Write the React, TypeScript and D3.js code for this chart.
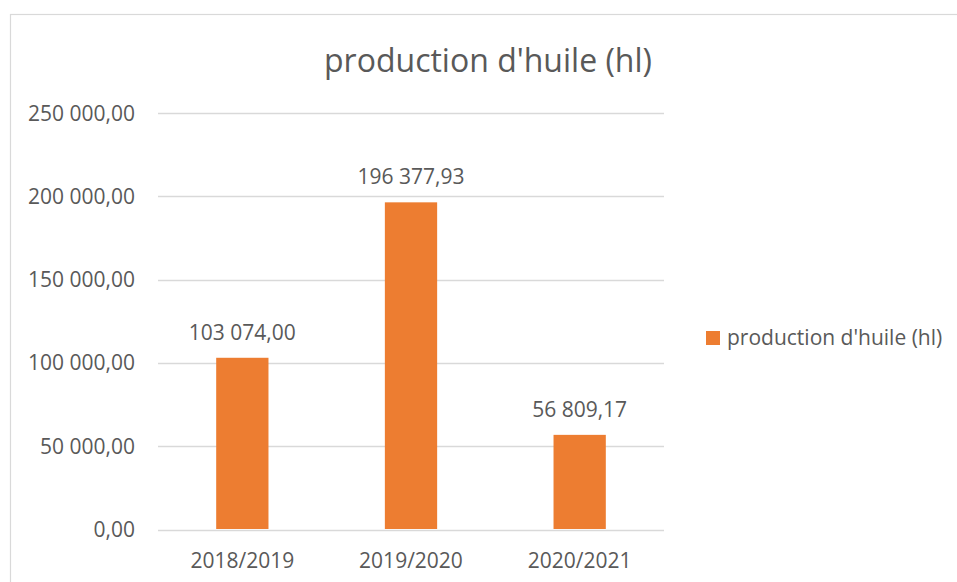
import React from "react";
import * as d3 from "d3";

const categories = ["2018/2019", "2019/2020", "2020/2021"];
const values = [103074.0, 196377.93, 56809.17];
const yTicks = [0, 50000, 100000, 150000, 200000, 250000];
const seriesName = "production d'huile (hl)";
const title = "production d'huile (hl)";

const W = 957;
const H = 582;
const FONT = "'Open Sans', sans-serif";
const TEXT = "#595959";
const GRID = "#d9d9d9";
const BAR = "#ed7d31";

function fmt(v: number): string {
  const s = v.toFixed(2);
  const [intPart, dec] = s.split(".");
  const withSpaces = intPart.replace(/\B(?=(\d{3})+(?!\d))/g, " ");
  return `${withSpaces},${dec}`;
}

export default function App() {
  const plotLeft = 158;
  const plotRight = 664;
  const plotTop = 113;
  const plotBottom = 529.5;

  const x = d3.scaleBand<string>().domain(categories).range([plotLeft, plotRight]).paddingInner(0.69).paddingOuter(0.345);
  const y = d3.scaleLinear().domain([0, 250000]).range([plotBottom, plotTop]);

  return (
    <svg width={W} height={H} style={{ position: "absolute", left: 0, top: 0, display: "block" }}>
      <rect x={0} y={0} width={W} height={H} fill="#ffffff" />
      <rect x={10.5} y={14.5} width={W + 20} height={H + 20} fill="#ffffff" stroke={GRID} strokeWidth={1.2} />
      <text x={488} y={72} textAnchor="middle" fontFamily={FONT} fontSize={32} fill={TEXT}>
        {title}
      </text>
      {yTicks.map((t) => (
        <g key={t}>
          <line x1={plotLeft} x2={plotRight} y1={Math.round(y(t)) + 0.5} y2={Math.round(y(t)) + 0.5} stroke={GRID} strokeWidth={1.3} />
          <text x={135} y={y(t) + 7.5} textAnchor="end" fontFamily={FONT} fontSize={21} fill={TEXT}>
            {fmt(t)}
          </text>
        </g>
      ))}
      {categories.map((c, i) => {
        const bx = x(c)!;
        const bw = x.bandwidth();
        const top = y(values[i]);
        return (
          <g key={c}>
            <rect x={bx} y={top} width={bw} height={plotBottom - top - 0.5} fill={BAR} />
            <text x={bx + bw / 2} y={top - 18} textAnchor="middle" fontFamily={FONT} fontSize={21} fill={TEXT}>
              {fmt(values[i])}
            </text>
            <text x={bx + bw / 2} y={568} textAnchor="middle" fontFamily={FONT} fontSize={21} fill={TEXT}>
              {c}
            </text>
          </g>
        );
      })}
      <rect x={706} y={331} width={14} height={14} fill={BAR} />
      <text x={727} y={345} fontFamily={FONT} fontSize={21} fill={TEXT}>
        {seriesName}
      </text>
    </svg>
  );
}
